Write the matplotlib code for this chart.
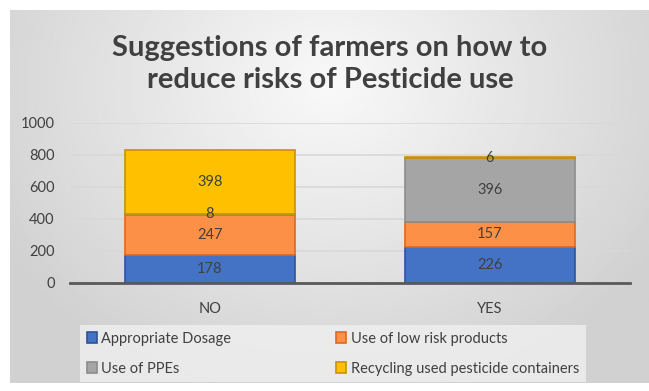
import numpy as np
import matplotlib
matplotlib.use('Agg')
import matplotlib.pyplot as plt

plt.rcParams['font.family'] = ['Lato', 'DejaVu Sans']

## data
groups = ['NO', 'YES']
series = ['Appropriate Dosage', 'Use of low risk products', 'Use of PPEs',
          'Recycling used pesticide containers']
dosage = [178, 226]
low_risk = [247, 157]
ppes = [8, 396]
recycling = [398, 6]
yticks = [0, 200, 400, 600, 800, 1000]

colors = ['#4472C4', '#FB9046', '#A5A5A5', '#FFC000']
edges = ['#2F5597', '#E2681E', '#8C8C8C', '#C99200']
txt = '#404040'

W, H = 649, 391
fig = plt.figure(figsize=(W / 100, H / 100), dpi=100)

# radial gradient background of the chart area
bg = fig.add_axes([10 / W, (H - 383) / H, (W - 10) / W, (383 - 10) / H])
yy, xx = np.mgrid[0:1:200j, 0:1:300j]
r = np.sqrt(((xx - 0.5) * 1.3) ** 2 + ((yy - 0.2) * 0.9) ** 2)
shade = np.clip(0.975 - 0.2 * r, 0.82, 1)
bg.imshow(shade, cmap='gray', vmin=0, vmax=1, aspect='auto',
          extent=[0, 1, 0, 1], origin='upper')
bg.set_axis_off()

ax = fig.add_axes([70 / W, (H - 283) / H, 560 / W, 160 / H])
ax.set_facecolor('none')

x = np.arange(len(groups))
bottom = np.zeros(len(groups))
bars = []
for name, vals, c, e in zip(series, [dosage, low_risk, ppes, recycling], colors, edges):
    b = ax.bar(x, vals, 0.607, bottom=bottom, color=c, edgecolor=e, linewidth=1.2,
               label=name, zorder=3)
    bars.append(b)
    for xi, b0, v in zip(x, bottom, vals):
        ax.text(xi, b0 + v / 2, str(v), ha='center', va='center', fontsize=10.5,
                color=txt, zorder=4)
    bottom += np.array(vals)

ax.set_xlim(-0.5, 1.5)
ax.set_ylim(0, 1000)
ax.set_yticks(yticks)
ax.set_xticks(x)
ax.set_xticklabels(groups)
ax.tick_params(axis='both', length=0, labelsize=10.5, labelcolor=txt)
ax.tick_params(axis='x', pad=14)
ax.tick_params(axis='y', pad=11)
ax.grid(axis='y', color='#d8d8d8', linewidth=1.2, zorder=0)
for s in ['top', 'right', 'left']:
    ax.spines[s].set_visible(False)
ax.spines['bottom'].set_color('#595959')
ax.spines['bottom'].set_linewidth(2)
ax.spines['bottom'].set_zorder(5)

fig.text(330 / W, 1 - 64 / H, 'Suggestions of farmers on how to\nreduce risks of Pesticide use',
         ha='center', va='center', fontsize=21, fontweight='bold', color=txt,
         linespacing=1.25)

# legend filled column-wise, so reorder to get row order of the reference
order = [0, 2, 1, 3]
leg = fig.legend([bars[i] for i in order], [series[i] for i in order],
                 loc='upper left', bbox_to_anchor=(80 / W, (H - 325) / H),
                 ncol=2, fontsize=10.5, frameon=True, fancybox=False,
                 handlelength=0.7, handleheight=0.7, handletextpad=0.3,
                 borderaxespad=0, labelspacing=1.1, borderpad=0.45, columnspacing=7.2)
leg.get_frame().set_facecolor('#f0f0f0')
leg.get_frame().set_edgecolor('none')
for t in leg.get_texts():
    t.set_color(txt)

fig.savefig('out.png', dpi=100)
